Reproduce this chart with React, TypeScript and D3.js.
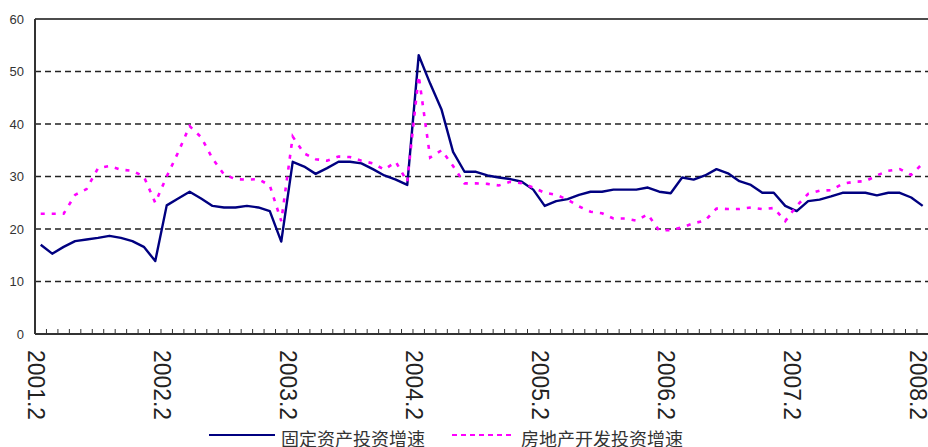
import React, { useEffect, useRef } from 'react'
import * as d3 from 'd3'

// monthly growth rates (%), Feb 2001 – Feb 2008, January not reported
const years = [2001, 2002, 2003, 2004, 2005, 2006, 2007, 2008]
const months = [2, 3, 4, 5, 6, 7, 8, 9, 10, 11, 12]

const fixedAssetGrowth = [
  17.0, 15.3, 16.6, 17.7, 18.0, 18.3, 18.7, 18.3, 17.7, 16.6, 13.9,
  24.5, 25.8, 27.1, 25.8, 24.4, 24.1, 24.1, 24.4, 24.1, 23.4, 17.6,
  32.8, 31.9, 30.5, 31.6, 32.8, 32.8, 32.5, 31.4, 30.2, 29.4, 28.4,
  53.1, 47.7, 42.7, 34.7, 30.9, 30.9, 30.2, 29.8, 29.5, 29.0, 27.5,
  24.4, 25.3, 25.7, 26.5, 27.1, 27.1, 27.5, 27.5, 27.5, 27.9, 27.1,
  26.8, 29.8, 29.4, 30.2, 31.4, 30.6, 29.1, 28.4, 26.9, 26.9, 24.4,
  23.4, 25.3, 25.6, 26.2, 26.9, 26.9, 26.9, 26.4, 26.9, 26.9, 26.0,
  24.4,
]

const realEstateGrowth = [
  22.9, 22.9, 22.9, 26.5, 27.6, 31.6, 32.0, 31.3, 31.1, 30.0, 25.0,
  30.0, 34.6, 39.6, 37.5, 33.4, 30.4, 29.5, 29.4, 29.5, 28.3, 21.5,
  37.6, 34.4, 33.3, 33.0, 33.8, 33.7, 33.0, 32.5, 31.3, 32.8, 29.0,
  49.2, 33.6, 35.0, 32.0, 28.7, 28.7, 28.6, 28.3, 29.0, 28.7, 27.9,
  26.9, 26.5, 25.6, 24.3, 23.3, 23.0, 22.0, 22.0, 21.6, 22.8, 19.7,
  19.8, 20.3, 21.1, 21.6, 23.9, 23.8, 23.8, 24.1, 23.8, 24.0, 21.5,
  24.4, 26.7, 27.3, 27.4, 28.6, 29.0, 29.1, 30.2, 31.1, 31.4, 30.3,
  32.5,
]

const yTicks = [0, 10, 20, 30, 40, 50, 60]
const seriesNames = ['固定资产投资增速', '房地产开发投资增速']

// category labels like "2001.2" ... "2008.2"
const categories: string[] = []
years.forEach(yr => {
  months.forEach(m => {
    if (yr === 2008 && m > 2) return
    categories.push(`${yr}.${m}`)
  })
})
const tickLabels = years.map(yr => `${yr}.2`)

const WIDTH = 928
const HEIGHT = 447

export default function App() {
  const ref = useRef<SVGSVGElement>(null)

  useEffect(() => {
    const svg = d3.select(ref.current!)
    svg.selectAll('*').remove()

    const left = 35
    const right = 928.4
    const top = 19
    const bottom = 334

    const x = d3.scaleBand<string>().domain(categories).range([left, right]).padding(0)
    const bw = x.bandwidth()
    const cx = (c: string) => x(c)! + bw / 2
    const y = d3.scaleLinear().domain([0, 60]).range([bottom, top])

    // gridlines
    svg.append('g')
      .selectAll('line')
      .data(yTicks.filter(t => t > 0 && t < 60))
      .enter()
      .append('line')
      .attr('x1', left)
      .attr('x2', right)
      .attr('y1', d => y(d))
      .attr('y2', d => y(d))
      .attr('stroke', '#222')
      .attr('stroke-width', 1.3)
      .attr('stroke-dasharray', '6,4')

    // top frame
    svg.append('line')
      .attr('x1', left).attr('x2', right)
      .attr('y1', y(60)).attr('y2', y(60))
      .attr('stroke', '#111').attr('stroke-width', 1.3)

    // y labels
    svg.append('g')
      .selectAll('text')
      .data(yTicks)
      .enter()
      .append('text')
      .attr('x', 24)
      .attr('y', d => y(d))
      .attr('dy', '0.35em')
      .attr('text-anchor', 'end')
      .attr('fill', '#333')
      .style('font', '13px "Liberation Sans", Arial, sans-serif')
      .text(d => d)

    // series
    const line = d3.line<number>()
      .x((_, i) => cx(categories[i]))
      .y(d => y(d))

    svg.append('path')
      .datum(fixedAssetGrowth)
      .attr('d', line)
      .attr('fill', 'none')
      .attr('stroke', '#000080')
      .attr('stroke-width', 2.4)
      .attr('stroke-linejoin', 'round')

    svg.append('path')
      .datum(realEstateGrowth)
      .attr('d', line)
      .attr('fill', 'none')
      .attr('stroke', '#ff00ff')
      .attr('stroke-width', 2.6)
      .attr('stroke-dasharray', '4,7')

    // axes
    svg.append('line')
      .attr('x1', left).attr('x2', left)
      .attr('y1', top).attr('y2', bottom)
      .attr('stroke', '#333').attr('stroke-width', 2)
    svg.append('line')
      .attr('x1', left).attr('x2', right)
      .attr('y1', bottom).attr('y2', bottom)
      .attr('stroke', '#333').attr('stroke-width', 2)

    // tick marks between categories
    svg.append('g')
      .selectAll('line')
      .data(categories.slice(1))
      .enter()
      .append('line')
      .attr('x1', d => x(d)!)
      .attr('x2', d => x(d)!)
      .attr('y1', bottom)
      .attr('y2', bottom - 5)
      .attr('stroke', '#333')
      .attr('stroke-width', 1)

    // rotated x labels
    svg.append('g')
      .selectAll('text')
      .data(tickLabels)
      .enter()
      .append('text')
      .attr('transform', d => `translate(${cx(d) - 5},350) rotate(90)`)
      .attr('dominant-baseline', 'central')
      .attr('fill', '#222')
      .attr('textLength', 70)
      .attr('lengthAdjust', 'spacingAndGlyphs')
      .style('font', '23px "Liberation Sans", Arial, sans-serif')
      .text(d => d)

    // legend
    const legend = svg.append('g')
    legend.append('line')
      .attr('x1', 209).attr('x2', 275).attr('y1', 435).attr('y2', 435)
      .attr('stroke', '#000080').attr('stroke-width', 2)
    legend.append('line')
      .attr('x1', 452).attr('x2', 514).attr('y1', 435).attr('y2', 435)
      .attr('stroke', '#ff00ff').attr('stroke-width', 2)
      .attr('stroke-dasharray', '5,4')
    legend.selectAll('text')
      .data(seriesNames)
      .enter()
      .append('text')
      .attr('x', (_, i) => (i === 0 ? 281 : 521))
      .attr('y', 438)
      .attr('dominant-baseline', 'central')
      .attr('fill', '#333')
      .style('font', '18px "Noto Sans CJK SC", sans-serif')
      .text(d => d)
  }, [])

  return (
    <svg
      ref={ref}
      width={WIDTH}
      height={HEIGHT}
      style={{ position: 'absolute', left: 0, top: 0, background: '#fff' }}
    />
  )
}
